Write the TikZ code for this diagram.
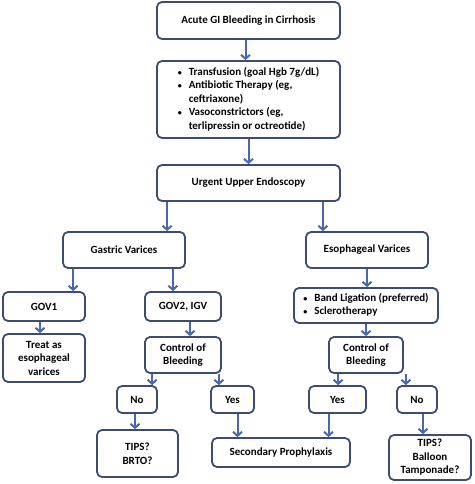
\documentclass[tikz,border=0pt]{standalone}
\usepackage{fontspec}
\setmainfont{Carlito}
\usetikzlibrary{arrows.meta,calc}
\definecolor{boxLine}{HTML}{3C4C72}
\definecolor{arrLine}{HTML}{4A66AC}
\newcommand{\dotItem}{{\fontsize{8pt}{8pt}\selectfont\textbullet}}
\tikzset{
    stepBox/.style={
        ,   draw=boxLine
        ,   line width=1.8pt
        ,   rounded corners=5pt
        ,   fill=white
        ,   align=center
        ,   inner sep=2pt
        ,   font={\fontsize{11pt}{13.5pt}\selectfont\bfseries}
    },
    arr/.style={
        ,   draw=arrLine
        ,   line width=2pt
        ,   -{Straight Barb[length=4pt,width=9pt]}
    }
}
\begin{document}
\begin{tikzpicture}[x=1pt,y=-1pt]
\useasboundingbox (0,0) rectangle (474,484);
% top column
\node[stepBox, minimum width=183pt, minimum height=37pt] (acute) at (248.5,20.5) {Acute GI Bleeding in Cirrhosis};
\node[stepBox, minimum width=183pt, minimum height=77pt] (meds) at (248.5,99.5) {%
  \begin{tabular}{@{}l@{\hspace{7pt}}l@{}}
  \dotItem & Transfusion (goal Hgb 7g/dL)\\
  \dotItem & Antibiotic Therapy (eg,\\
           & ceftriaxone)\\
  \dotItem & Vasoconstrictors (eg,\\
           & terlipressin or octreotide)
  \end{tabular}};
\node[stepBox, minimum width=183pt, minimum height=36pt] (endo) at (248.5,183) {Urgent Upper Endoscopy};

% varices
\node[stepBox, minimum width=122pt, minimum height=36pt] (gastric) at (124,250) {Gastric Varices};
\node[stepBox, minimum width=122pt, minimum height=36pt] (esoph) at (367,250) {Esophageal Varices};

% gastric side
\node[stepBox, minimum width=82pt, minimum height=29pt] (gov1) at (44,306.5) {GOV1};
\node[stepBox, minimum width=76pt, minimum height=29pt] (gov2) at (183,306.5) {GOV2, IGV};
\node[stepBox, minimum width=82pt, minimum height=48pt] (asEso) at (44,358) {Treat as\\esophageal\\varices};
\node[stepBox, minimum width=76pt, minimum height=36pt] (ctrlL) at (183,355) {Control of\\Bleeding};
\node[stepBox, minimum width=40pt, minimum height=27pt] (noL) at (137,399.5) {No};
\node[stepBox, minimum width=43pt, minimum height=27pt] (yesL) at (232.5,399.5) {Yes};
\node[stepBox, minimum width=81pt, minimum height=47pt] (tipsL) at (137.5,453.5) {TIPS?\\BRTO?};

% esophageal side
\node[stepBox, minimum width=144pt, minimum height=35pt] (band) at (366,305.5) {%
  \begin{tabular}{@{}l@{\hspace{7pt}}l@{}}
  \dotItem & Band Ligation (preferred)\\
  \dotItem & Sclerotherapy
  \end{tabular}};
\node[stepBox, minimum width=74pt, minimum height=36pt] (ctrlR) at (366,355) {Control of\\Bleeding};
\node[stepBox, minimum width=57pt, minimum height=27pt] (yesR) at (337.5,399.5) {Yes};
\node[stepBox, minimum width=40pt, minimum height=27pt] (noR) at (417,399.5) {No};
\node[stepBox, minimum width=82pt, minimum height=45pt] (tipsR) at (430,457.5) {TIPS?\\Balloon\\Tamponade?};

\node[stepBox, minimum width=138pt, minimum height=29pt] (second) at (281,452.5) {Secondary Prophylaxis};

% arrows
\draw[arr] ([xshift=-3pt]acute.south) -- ([xshift=-3pt]acute.south |- meds.north);
\draw[arr] (meds.south) -- (meds.south |- endo.north);
\draw[arr] ([xshift=11pt]endo.south west) -- ([xshift=11pt]endo.south west |- gastric.north);
\draw[arr] ([xshift=-18pt]endo.south east) -- ([xshift=-18pt]endo.south east |- esoph.north);
\draw[arr] ([xshift=11pt]gastric.south west) -- ([xshift=11pt]gastric.south west |- gov1.north);
\draw[arr] ([xshift=-13pt]gastric.south east) -- ([xshift=-13pt]gastric.south east |- gov2.north);
\draw[arr] (esoph.south) -- (esoph.south |- band.north);
\draw[arr] ([xshift=-4pt]gov1.south) -- ([xshift=-4pt]gov1.south |- asEso.north);
\draw[arr] ([xshift=7pt]gov2.south) -- ([xshift=7pt]gov2.south |- ctrlL.north);
\draw[arr] (band.south) -- (band.south |- ctrlR.north);
\draw[arr] ([xshift=8pt]ctrlL.south west) -- ([xshift=8pt]ctrlL.south west |- noL.north);
\draw[arr] ([xshift=-3pt]ctrlL.south east) -- ([xshift=-3pt]ctrlL.south east |- yesL.north);
\draw[arr] ([xshift=10pt]ctrlR.south west) -- ([xshift=10pt]ctrlR.south west |- yesR.north);
\draw[arr] ([xshift=2pt]ctrlR.south east) -- ([xshift=2pt]ctrlR.south east |- noR.north);
\draw[arr] ([xshift=-2pt]noL.south) -- ([xshift=-2pt]noL.south |- tipsL.north);
\draw[arr] ([xshift=5pt]yesL.south) -- ([xshift=5pt]yesL.south |- second.north);
\draw[arr] ([xshift=-9pt]yesR.south) -- ([xshift=-9pt]yesR.south |- second.north);
\draw[arr] ([xshift=6pt]noR.south) -- ([xshift=6pt]noR.south |- tipsR.north);
\end{tikzpicture}
\end{document}
